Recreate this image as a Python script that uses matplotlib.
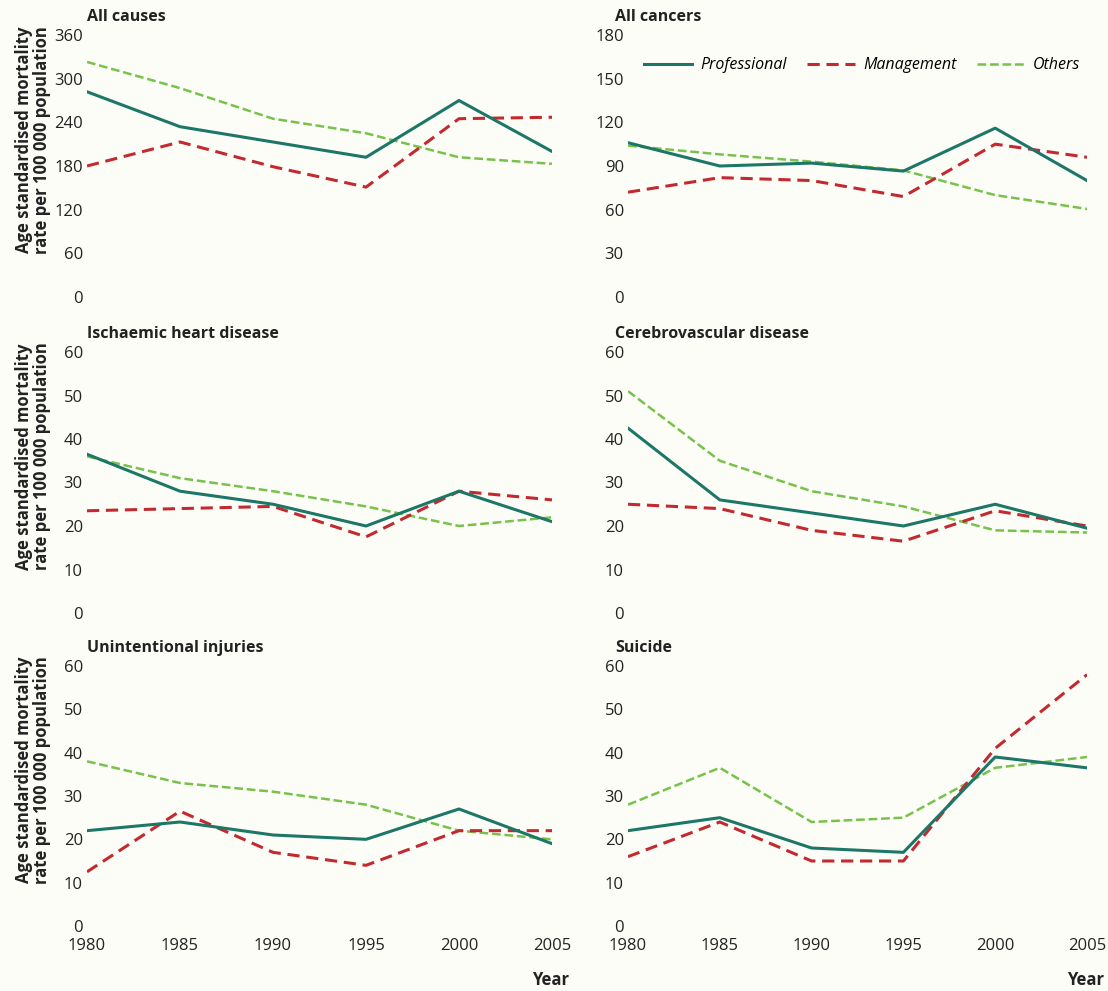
import matplotlib.pyplot as plt
import numpy as np

plt.rcParams["font.family"] = ["Open Sans", "DejaVu Sans"]

years = [1980, 1985, 1990, 1995, 2000, 2005]
groups = ["Professional", "Management", "Others"]

titles = ["All causes", "All cancers", "Ischaemic heart disease",
          "Cerebrovascular disease", "Unintentional injuries", "Suicide"]

all_causes_prof = [282, 234, 213, 192, 270, 200]
all_causes_mgmt = [180, 213, 179, 151, 245, 247]
all_causes_oth = [323, 287, 245, 225, 192, 183]

cancers_prof = [106, 90, 92, 86.5, 116, 80]
cancers_mgmt = [72, 82, 80, 69, 105, 96]
cancers_oth = [104, 98, 93, 87, 70, 60.5]

ihd_prof = [36.5, 28, 25, 20, 28, 21]
ihd_mgmt = [23.5, 24, 24.5, 17.5, 28, 26]
ihd_oth = [36, 31, 28, 24.5, 20, 22]

cvd_prof = [42.5, 26, 23, 20, 25, 19.5]
cvd_mgmt = [25, 24, 19, 16.5, 23.5, 20]
cvd_oth = [51, 35, 28, 24.5, 19, 18.5]

injury_prof = [22, 24, 21, 20, 27, 19]
injury_mgmt = [12.5, 26.5, 17, 14, 22, 22]
injury_oth = [38, 33, 31, 28, 22, 20]

suicide_prof = [22, 25, 18, 17, 39, 36.5]
suicide_mgmt = [16, 24, 15, 15, 41, 58]
suicide_oth = [28, 36.5, 24, 25, 36.5, 39]

panels = [
    (all_causes_prof, all_causes_mgmt, all_causes_oth, 360, 60),
    (cancers_prof, cancers_mgmt, cancers_oth, 180, 30),
    (ihd_prof, ihd_mgmt, ihd_oth, 60, 10),
    (cvd_prof, cvd_mgmt, cvd_oth, 60, 10),
    (injury_prof, injury_mgmt, injury_oth, 60, 10),
    (suicide_prof, suicide_mgmt, suicide_oth, 60, 10),
]

bg = "#fdfdf8"
c_prof = "#1d7767"
c_mgmt = "#c22a30"
c_oth = "#78c24c"
txt = "#222222"

W, H = 1108, 991
fig = plt.figure(figsize=(W / 100, H / 100), dpi=100, facecolor=bg)

lefts = [87, 628]
widths = [465, 459]
tops = [35, 352, 666]
bottoms = [297, 613, 926]

axes = []
for i, (prof, mgmt, oth, ymax, step) in enumerate(panels):
    row, col = divmod(i, 2)
    ax = fig.add_axes([lefts[col] / W, 1 - bottoms[row] / H,
                       widths[col] / W, (bottoms[row] - tops[row]) / H])
    ax.set_facecolor(bg)
    ax.plot(years, prof, color=c_prof, lw=2.2, label="Professional", zorder=3)
    ax.plot(years, mgmt, color=c_mgmt, lw=2.2, ls=(0, (4, 2.2)), label="Management", zorder=2)
    ax.plot(years, oth, color=c_oth, lw=1.8, ls=(0, (3.5, 1.5)), label="Others", zorder=1)
    ax.set_xlim(1980, 2005)
    ax.set_ylim(0, ymax)
    ax.set_yticks(np.arange(0, ymax + 1, step))
    ax.set_xticks(years)
    for s in ax.spines.values():
        s.set_visible(False)
    ax.tick_params(length=0, labelsize=12, colors=txt)
    ax.tick_params(axis="y", pad=3)
    if row < 2:
        ax.set_xticklabels([])
    else:
        ax.tick_params(axis="x", pad=9)
        ax.text(1.0 + 17 / widths[col], -0.208, "Year", transform=ax.transAxes,
                ha="right", va="center", fontsize=12, fontweight="bold", color=txt)
    ax.text(0.0 if col == 0 else -0.028, 1.04, titles[i], transform=ax.transAxes,
            ha="left", va="bottom", fontsize=11.5, fontweight="bold", color=txt)
    if col == 0:
        ax.set_ylabel("Age standardised mortality\nrate per 100 000 population",
                      fontsize=12, fontweight="bold", color=txt, linespacing=1.0)
        ax.yaxis.set_label_coords(-36 / widths[col], 0.6)
    axes.append(ax)

leg = axes[1].legend(loc="upper center", bbox_to_anchor=(0.51, 0.97), ncol=3,
                     frameon=False, handlelength=3.0, columnspacing=1.3,
                     handletextpad=0.5, prop={"style": "italic", "size": 11.5})

fig.savefig("out.png", dpi=100, facecolor=bg)
